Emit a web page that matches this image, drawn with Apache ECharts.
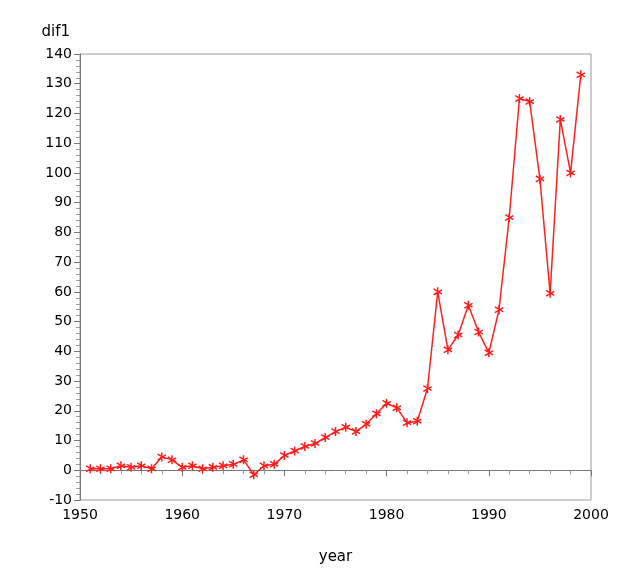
<!DOCTYPE html><html><head><meta charset="utf-8"><script src="https://cdn.jsdelivr.net/npm/echarts@6/dist/echarts.min.js"></script></head><body style="margin:0;background:#fff"><div id="c" style="width:643px;height:581px"></div><script>
const years=[1951,1952,1953,1954,1955,1956,1957,1958,1959,1960,1961,1962,1963,1964,1965,1966,1967,1968,1969,1970,1971,1972,1973,1974,1975,1976,1977,1978,1979,1980,1981,1982,1983,1984,1985,1986,1987,1988,1989,1990,1991,1992,1993,1994,1995,1996,1997,1998,1999];
const dif1=[0.5,0.5,0.5,1.5,1,1.5,0.5,4.5,3.5,1,1.5,0.5,1,1.5,2,3.5,-1.5,1.5,2,5,6.5,8,9,11,13,14.5,13,15.5,19,22.5,21,16,16.5,27.5,60,40.5,45.5,55.5,46.5,39.5,54,85,125,124,98,59.5,118,100,133];
const star='path://M4.2,0h1.6v10h-1.6z M0.1,2.5l0.8,-1.4l9,5.4l-0.8,1.4z M0.1,7.5l9,-5.4l0.8,1.4l-9,5.4z';
const font='"DejaVu Sans",sans-serif';
const ax={color:'#000',fontSize:14,fontFamily:font};
const c=echarts.init(document.getElementById('c'));
c.setOption({animation:false,
grid:{left:80,right:52,top:54,bottom:81,show:true,borderColor:'#999',borderWidth:1},
xAxis:{type:'value',min:1950,max:2000,interval:10,name:'year',nameLocation:'middle',nameGap:50,nameTextStyle:Object.assign({},ax,{fontSize:15}),
axisLine:{lineStyle:{color:'#777'}},axisTick:{length:6,lineStyle:{color:'#777'}},minorTick:{show:true,splitNumber:5,length:4,lineStyle:{color:'#999'}},
axisLabel:Object.assign({margin:8,formatter:v=>String(v)},ax),splitLine:{show:false}},
yAxis:{type:'value',min:-10,max:140,interval:10,name:'dif1',nameLocation:'end',nameGap:14,nameTextStyle:Object.assign({},ax,{fontSize:15,align:'right',padding:[0,10,0,0]}),
axisLine:{show:true,lineStyle:{color:'#777'}},axisTick:{show:true,length:6,lineStyle:{color:'#777'}},minorTick:{show:true,splitNumber:5,length:4,lineStyle:{color:'#999'}},
axisLabel:Object.assign({margin:8},ax),splitLine:{show:false}},
series:[{type:'line',data:years.map((y,i)=>[y,dif1[i]]),symbol:star,symbolSize:9,showAllSymbol:true,
lineStyle:{color:'#ff2020',width:1.5},itemStyle:{color:'#ff1a1a'}}]});
</script></body></html>
